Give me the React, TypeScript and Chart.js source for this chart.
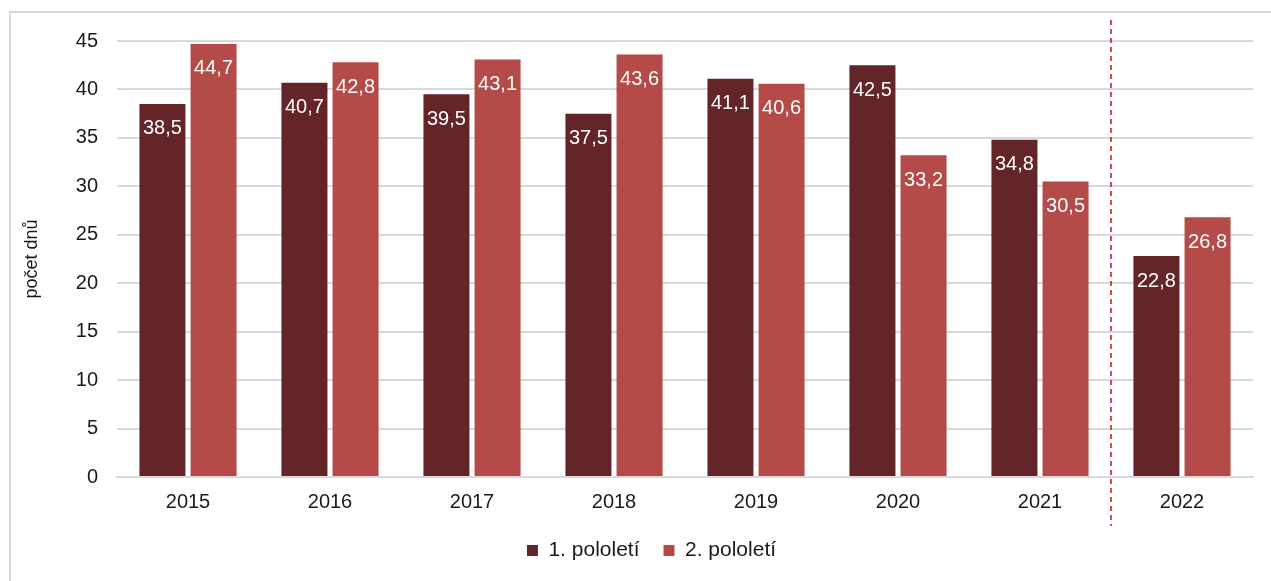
import React, { useEffect, useRef } from "react";
import { Chart, registerables } from "chart.js";

Chart.register(...registerables);

const categories = ["2015", "2016", "2017", "2018", "2019", "2020", "2021", "2022"];
const firstHalf = [38.5, 40.7, 39.5, 37.5, 41.1, 42.5, 34.8, 22.8];
const secondHalf = [44.7, 42.8, 43.1, 43.6, 40.6, 33.2, 30.5, 26.8];
const seriesNames = ["1. pololetí", "2. pololetí"];
const seriesColors = ["#632527", "#B54B48"];
const yAxisTitle = "počet dnů";
const yMin = 0;
const yMax = 45;
const yStep = 5;
const dividerAfterIndex = 6;

const FONT = "'Liberation Sans', Arial, sans-serif";

const fmt = (v: number) => v.toFixed(1).replace(".", ",");

const labelPlugin = {
  id: "barLabels",
  afterDatasetsDraw(chart: any) {
    const ctx = chart.ctx;
    ctx.save();
    ctx.font = `20px ${FONT}`;
    ctx.fillStyle = "#ffffff";
    ctx.textAlign = "center";
    ctx.textBaseline = "middle";
    chart.data.datasets.forEach((ds: any, di: number) => {
      const meta = chart.getDatasetMeta(di);
      meta.data.forEach((bar: any, i: number) => {
        ctx.fillText(fmt(ds.data[i]), bar.x, bar.y + 25);
      });
    });
    ctx.restore();
  },
};

const dividerPlugin = {
  id: "divider",
  afterLayout(chart: any) {
    if (chart.legend) {
      chart.legend.left += 25;
      chart.legend.right += 25;
    }
  },
  afterDatasetsDraw(chart: any) {
    const x = chart.scales.x;
    const area = chart.chartArea;
    const px = (x.getPixelForValue(dividerAfterIndex) + x.getPixelForValue(dividerAfterIndex + 1)) / 2;
    const ctx = chart.ctx;
    ctx.save();
    ctx.strokeStyle = "#C0141E";
    ctx.lineWidth = 1.5;
    ctx.setLineDash([5, 4]);
    ctx.beginPath();
    ctx.moveTo(px, area.top - 21);
    ctx.lineTo(px, area.bottom + 49);
    ctx.stroke();
    ctx.restore();
  },
};

export default function App() {
  const ref = useRef<HTMLCanvasElement | null>(null);

  useEffect(() => {
    if (!ref.current) return;
    const chart = new Chart(ref.current, {
      type: "bar",
      data: {
        labels: categories,
        datasets: [
          {
            label: seriesNames[0],
            data: firstHalf,
            backgroundColor: seriesColors[0],
            categoryPercentage: 0.72,
            barPercentage: 0.9,
          },
          {
            label: seriesNames[1],
            data: secondHalf,
            backgroundColor: seriesColors[1],
            categoryPercentage: 0.72,
            barPercentage: 0.9,
          },
        ],
      },
      options: {
        responsive: false,
        animation: false,
        layout: { padding: { left: 0, right: 18, top: 41, bottom: 10 } },
        plugins: {
          tooltip: { enabled: false },
          legend: {
            position: "bottom",
            labels: {
              boxWidth: 11,
              boxHeight: 11,
              padding: 24,
              color: "#1a1a1a",
              font: { family: FONT, size: 21 },
            },
          },
        },
        scales: {
          x: {
            grid: { display: false, drawTicks: false },
            border: { display: true, color: "#d9d9d9", width: 2 },
            ticks: { color: "#1a1a1a", font: { family: FONT, size: 20 }, padding: 13 },
            afterFit: (s: any) => {
              s.height = 39;
            },
          },
          y: {
            min: yMin,
            max: yMax,
            ticks: { stepSize: yStep, color: "#1a1a1a", font: { family: FONT, size: 20 }, padding: 19 },
            grid: { color: "#d9d9d9", lineWidth: 2, drawTicks: false },
            border: { display: false },
            title: {
              display: true,
              text: yAxisTitle,
              color: "#1a1a1a",
              font: { family: FONT, size: 18 },
              padding: { top: 21, bottom: 0 },
            },
            afterFit: (s: any) => {
              s.width = 117;
            },
          },
        },
      },
      plugins: [labelPlugin, dividerPlugin],
    });
    return () => chart.destroy();
  }, []);

  return (
    <div style={{ position: "fixed", left: 0, top: 0, width: 1271, height: 581, overflow: "hidden", background: "#fff" }}>
      <div
        style={{
          position: "absolute",
          left: 9,
          top: 11,
          width: 1300,
          height: 600,
          border: "2px solid #d9d9d9",
          boxSizing: "border-box",
        }}
      />
      <canvas ref={ref} width={1271} height={581} style={{ position: "absolute", left: 0, top: 0, width: 1271, height: 581 }} />
    </div>
  );
}
